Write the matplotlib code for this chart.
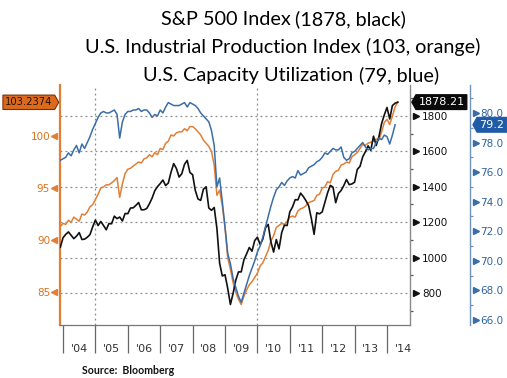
import matplotlib
matplotlib.use('Agg')
import matplotlib.pyplot as plt
import matplotlib.transforms as mtransforms
from matplotlib.transforms import offset_copy
from matplotlib.path import Path
import numpy as np

# ---------------- data (monthly, Nov 2003 .. Apr 2014) ----------------
start_year, start_month = 2003, 11

sp500 = [1058, 1112,
         1131, 1145, 1126, 1107, 1121, 1141, 1102, 1104, 1115, 1130, 1174, 1212,
         1181, 1204, 1181, 1157, 1192, 1191, 1234, 1220, 1229, 1207, 1249, 1248,
         1280, 1281, 1295, 1311, 1270, 1270, 1277, 1304, 1336, 1378, 1401, 1418,
         1438, 1407, 1421, 1482, 1531, 1503, 1455, 1474, 1527, 1549, 1481, 1468,
         1379, 1331, 1323, 1386, 1400, 1280, 1267, 1283, 1165, 969, 896, 903,
         826, 735, 798, 873, 919, 919, 987, 1021, 1057, 1036, 1096, 1115,
         1074, 1104, 1169, 1187, 1089, 1031, 1102, 1049, 1141, 1183, 1181, 1258,
         1286, 1327, 1326, 1364, 1345, 1321, 1292, 1219, 1131, 1253, 1247, 1258,
         1312, 1366, 1408, 1398, 1310, 1362, 1379, 1407, 1441, 1412, 1416, 1426,
         1498, 1515, 1569, 1598, 1631, 1606, 1686, 1633, 1682, 1757, 1806, 1848,
         1783, 1859, 1872, 1878.21]

ind_prod = [91.3, 91.6,
            91.5, 91.9, 91.7, 92.2, 92.0, 91.8, 92.5, 92.4, 92.7, 93.2, 93.4, 93.9,
            94.4, 95.0, 95.1, 95.3, 95.3, 95.5, 95.7, 96.0, 94.1, 95.4, 96.4, 96.8,
            96.9, 97.1, 97.3, 97.5, 97.4, 97.8, 97.9, 98.2, 98.0, 98.4, 98.2, 98.8,
            98.7, 99.3, 99.5, 100.1, 100.0, 100.3, 100.4, 100.4, 100.7, 100.5, 100.9, 100.9,
            100.7, 100.4, 100.1, 99.6, 99.3, 99.0, 98.5, 97.2, 94.3, 94.8, 93.3, 91.2,
            88.3, 87.2, 85.9, 85.0, 84.3, 83.8, 84.6, 85.2, 85.7, 86.0, 86.4, 86.8,
            87.5, 87.8, 88.4, 89.0, 89.9, 90.4, 91.2, 91.4, 91.6, 91.5, 91.8, 92.2,
            92.3, 92.2, 92.8, 93.0, 93.1, 93.3, 93.6, 93.7, 93.8, 94.3, 94.4, 95.0,
            95.1, 95.6, 95.5, 96.3, 96.6, 96.7, 97.2, 97.3, 97.5, 97.4, 98.0, 98.2,
            98.4, 98.8, 99.2, 99.1, 99.3, 99.4, 99.5, 99.7, 99.6, 100.4, 101.3, 101.6,
            101.1, 101.9, 102.8, 103.2374]

cap_util = [76.8, 76.9,
            77.0, 77.3, 77.1, 77.5, 77.8, 77.3, 77.9, 77.6, 78.0, 78.4, 78.9, 79.3,
            79.7, 80.0, 80.1, 80.0, 80.0, 80.1, 80.2, 79.9, 78.3, 79.4, 79.9, 80.1,
            80.1, 80.2, 80.2, 80.3, 80.1, 80.2, 80.2, 80.0, 79.7, 79.9, 79.8, 80.2,
            80.0, 80.4, 80.7, 80.6, 80.5, 80.5, 80.5, 80.6, 80.7, 80.4, 80.7, 80.6,
            80.5, 80.3, 80.0, 79.8, 79.6, 79.4, 78.8, 77.8, 75.0, 75.6, 74.0, 72.3,
            70.5, 69.8, 68.8, 68.2, 67.6, 67.2, 67.8, 68.4, 69.0, 69.5, 70.0, 70.6,
            71.0, 71.6, 72.3, 73.0, 73.7, 74.3, 74.8, 75.0, 75.3, 75.1, 75.4, 75.6,
            75.7, 75.6, 76.1, 75.8, 75.9, 76.0, 76.3, 76.4, 76.5, 76.7, 76.8, 77.0,
            77.3, 77.2, 77.4, 77.6, 77.5, 77.5, 77.7, 77.0, 76.8, 76.9, 77.3, 77.4,
            77.6, 77.8, 78.0, 77.7, 77.5, 77.6, 77.6, 78.0, 78.3, 78.2, 78.5, 78.4,
            77.9, 78.5, 79.2]

year_labels = ["'04", "'05", "'06", "'07", "'08", "'09", "'10", "'11", "'12", "'13", "'14"]
years = list(range(2004, 2015))
ip_ticks = [85, 90, 95, 100]
sp_ticks = [800, 1000, 1200, 1400, 1600, 1800]
cu_ticks = [66, 68, 70, 72, 74, 76, 78, 80]

title_lines = [("S&P 500 Index", " (1878, black)"),
               ("U.S. Industrial Production Index", " (103, orange)"),
               ("U.S. Capacity Utilization", " (79, blue)")]
source_text = "Source:  Bloomberg"


def month_pos(n):
    return np.array([start_year + (start_month + i) / 12.0 for i in range(n)])


# ---------------- styling ----------------
ORANGE = '#E27F36'
ORANGE_TXT = '#D9741F'
BLUE = '#3B6EA8'
BLUE_TXT = '#2F62A0'
BLACK = '#111111'
GRID = '#8a8a8a'

W, H = 507, 378
fig = plt.figure(figsize=(W / 100, H / 100), dpi=100)
ax = fig.add_axes([60 / W, 53 / H, 350 / W, 240 / H])
ax_sp = ax.twinx()
ax_cu = ax.twinx()

ax.set_xlim(2003.907, 2014.71)
ax.set_ylim(81.83, 104.90)
ax_sp.set_ylim(619, 1975)
ax_cu.set_ylim(65.66, 81.89)

# grid lines (on host axes, behind all series)
grid_tr = mtransforms.blended_transform_factory(ax.transAxes, ax_sp.transData)
for v in sp_ticks:
    ax.plot([0, 1], [v, v], transform=grid_tr, color=GRID, lw=0.9,
            linestyle=(0, (1.5, 2.5)), zorder=0)
for yv in (2005, 2010):
    ax.axvline(yv, color=GRID, lw=0.9, linestyle=(0, (1.5, 2.5)), zorder=0)

# series
ax.plot(month_pos(len(ind_prod)), ind_prod, color=ORANGE, lw=1.1, zorder=3)
ax_sp.plot(month_pos(len(sp500)), sp500, color=BLACK, lw=1.2, zorder=3)
ax_cu.plot(month_pos(len(cap_util)), cap_util, color=BLUE, lw=1.1, zorder=3)

# spines
for a in (ax, ax_sp, ax_cu):
    a.spines['top'].set_visible(False)
ax.spines['right'].set_visible(False)
ax_sp.spines['left'].set_visible(False)
ax_cu.spines['left'].set_visible(False)
ax_sp.spines['bottom'].set_visible(False)
ax_cu.spines['bottom'].set_visible(False)
ax.spines['left'].set_color(ORANGE)
ax.spines['left'].set_linewidth(1.6)
ax.spines['bottom'].set_color('#777777')
ax.spines['bottom'].set_linewidth(0.9)
ax_sp.spines['right'].set_color('#8a8a8a')
ax_sp.spines['right'].set_linewidth(1.0)
ax_cu.spines['right'].set_position(('outward', 60 * 0.72))
ax_cu.spines['right'].set_color('#6f93bf')
ax_cu.spines['right'].set_linewidth(1.0)

# y ticks
ax.set_yticks(ip_ticks)
ax.set_yticklabels([str(t) for t in ip_ticks])
ax.tick_params(axis='y', length=0, pad=7.2, labelsize=7.5, labelcolor=ORANGE_TXT)
ax_sp.set_yticks(sp_ticks)
ax_sp.set_yticklabels([str(t) for t in sp_ticks])
ax_sp.set_yticks([v + 100 for v in [600] + sp_ticks], minor=True)
ax_sp.tick_params(axis='y', which='major', length=0, pad=8.6, labelsize=7.5, labelcolor=BLACK)
ax_sp.tick_params(axis='y', which='minor', length=2.5, width=0.9, color='#555555')
ax_cu.set_yticks(cu_ticks)
ax_cu.set_yticklabels(['%.1f' % t for t in cu_ticks])
ax_cu.set_yticks([v + 1 for v in cu_ticks], minor=True)
ax_cu.tick_params(axis='y', which='major', length=0, pad=7.2, labelsize=7.5, labelcolor=BLUE_TXT)
ax_cu.tick_params(axis='y', which='minor', length=2.5, width=0.9, color='#6f93bf')

# triangle tick markers
tr_o = offset_copy(ax.get_yaxis_transform(), fig=fig, x=-6.5, units='dots')
ax.plot(np.zeros(len(ip_ticks)), ip_ticks, linestyle='none', marker='<', ms=4.2,
        color=ORANGE, transform=tr_o, clip_on=False)
tr_s = offset_copy(ax_sp.get_yaxis_transform(), fig=fig, x=5.5, units='dots')
ax_sp.plot(np.ones(len(sp_ticks)), sp_ticks, linestyle='none', marker='>', ms=4.2,
           color=BLACK, transform=tr_s, clip_on=False)
tr_c = offset_copy(ax_cu.get_yaxis_transform(), fig=fig, x=65.5, units='dots')
ax_cu.plot(np.ones(len(cu_ticks)), cu_ticks, linestyle='none', marker='>', ms=4.2,
           color=BLUE, transform=tr_c, clip_on=False)

# x axis: long separators at year boundaries, labels centered in each year
ax.set_xticks(years)
ax.set_xticklabels([''] * len(years))
ax.set_xticks([y + 0.5 for y in years], minor=True)
ax.set_xticklabels(year_labels, minor=True)
ax.tick_params(axis='x', which='major', length=20, width=0.9, color='#666666', direction='out')
ax.tick_params(axis='x', which='minor', length=0, pad=17, labelsize=8, labelcolor='#333333')
for lbl in ax.get_xticklabels(minor=True):
    lbl.set_verticalalignment('center')


# ---------------- callout tags ----------------
def tag_right(x0, y0, width, height, mutation_size):
    pad = 0.22 * mutation_size
    x0 -= pad; y0 -= pad; width += 2 * pad; height += 2 * pad
    tip = height * 0.28
    return Path([(x0, y0), (x0 + width, y0), (x0 + width + tip, y0 + height / 2),
                 (x0 + width, y0 + height), (x0, y0 + height), (x0, y0)], closed=True)


def tag_left(x0, y0, width, height, mutation_size):
    pad = 0.22 * mutation_size
    x0 -= pad; y0 -= pad; width += 2 * pad; height += 2 * pad
    tip = height * 0.28
    return Path([(x0, y0), (x0 + width, y0), (x0 + width, y0 + height),
                 (x0, y0 + height), (x0 - tip, y0 + height / 2), (x0, y0)], closed=True)


ax.annotate('%.4f' % ind_prod[-1], xy=(0, ind_prod[-1]), xycoords=ax.get_yaxis_transform(),
            xytext=(-5.4, 0), textcoords='offset points', ha='right', va='center',
            fontsize=7.2, color='#2a1200', annotation_clip=False,
            bbox=dict(boxstyle=tag_right, fc='#DC6A1E', ec='#7a3000', lw=0.8))
ax_sp.annotate('%.2f' % sp500[-1], xy=(1, sp500[-1]), xycoords=ax_sp.get_yaxis_transform(),
               xytext=(6.0, 0), textcoords='offset points', ha='left', va='center',
               fontsize=8, color='white', annotation_clip=False, zorder=10,
               bbox=dict(boxstyle=tag_left, fc='#0a0a0a', ec='#0a0a0a', lw=0.8))
ax_cu.annotate('%.1f' % cap_util[-1], xy=(1, cap_util[-1]), xycoords=ax_cu.get_yaxis_transform(),
               xytext=(50.0, 0), textcoords='offset points', ha='left', va='center',
               fontsize=8, color='white', annotation_clip=False, zorder=10,
               bbox=dict(boxstyle=tag_left, fc='#1F5BA6', ec='#1F5BA6', lw=0.8))

# ---------------- title (mixed sizes) ----------------
fig.canvas.draw()
renderer = fig.canvas.get_renderer()
FAM = ['Lato', 'DejaVu Sans']


def width_at(text, size):
    t = fig.text(0, 0, text, fontsize=size, family=FAM)
    w = t.get_window_extent(renderer).width
    t.remove()
    return w


big_targets = [126, 285, 208]
small_targets = [102, 100, 97]
big_size = np.mean([12 * tw / width_at(b, 12) for (b, s), tw in zip(title_lines, big_targets)])
small_size = np.mean([10 * tw / width_at(s.strip(), 10) for (b, s), tw in zip(title_lines, small_targets)])

centers = [283.5, 282.5, 291]
baselines = [25, 53, 81]
for (big, small), cx, by in zip(title_lines, centers, baselines):
    wb = width_at(big, big_size)
    ws = width_at(small, small_size)
    x0 = cx - (wb + ws) / 2
    fig.text(x0 / W, 1 - by / H, big, fontsize=big_size, family=FAM, va='baseline', ha='left',
             color='#000000')
    fig.text((x0 + wb) / W, 1 - by / H, small, fontsize=small_size, family=FAM, va='baseline',
             ha='left', color='#000000')

fig.text(82 / W, 1 - 370 / H, source_text, fontsize=7.6, fontweight='bold',
         family=['Lato', 'DejaVu Sans'], va='center', ha='left', color='#111111')

fig.savefig('out.png', dpi=100)
